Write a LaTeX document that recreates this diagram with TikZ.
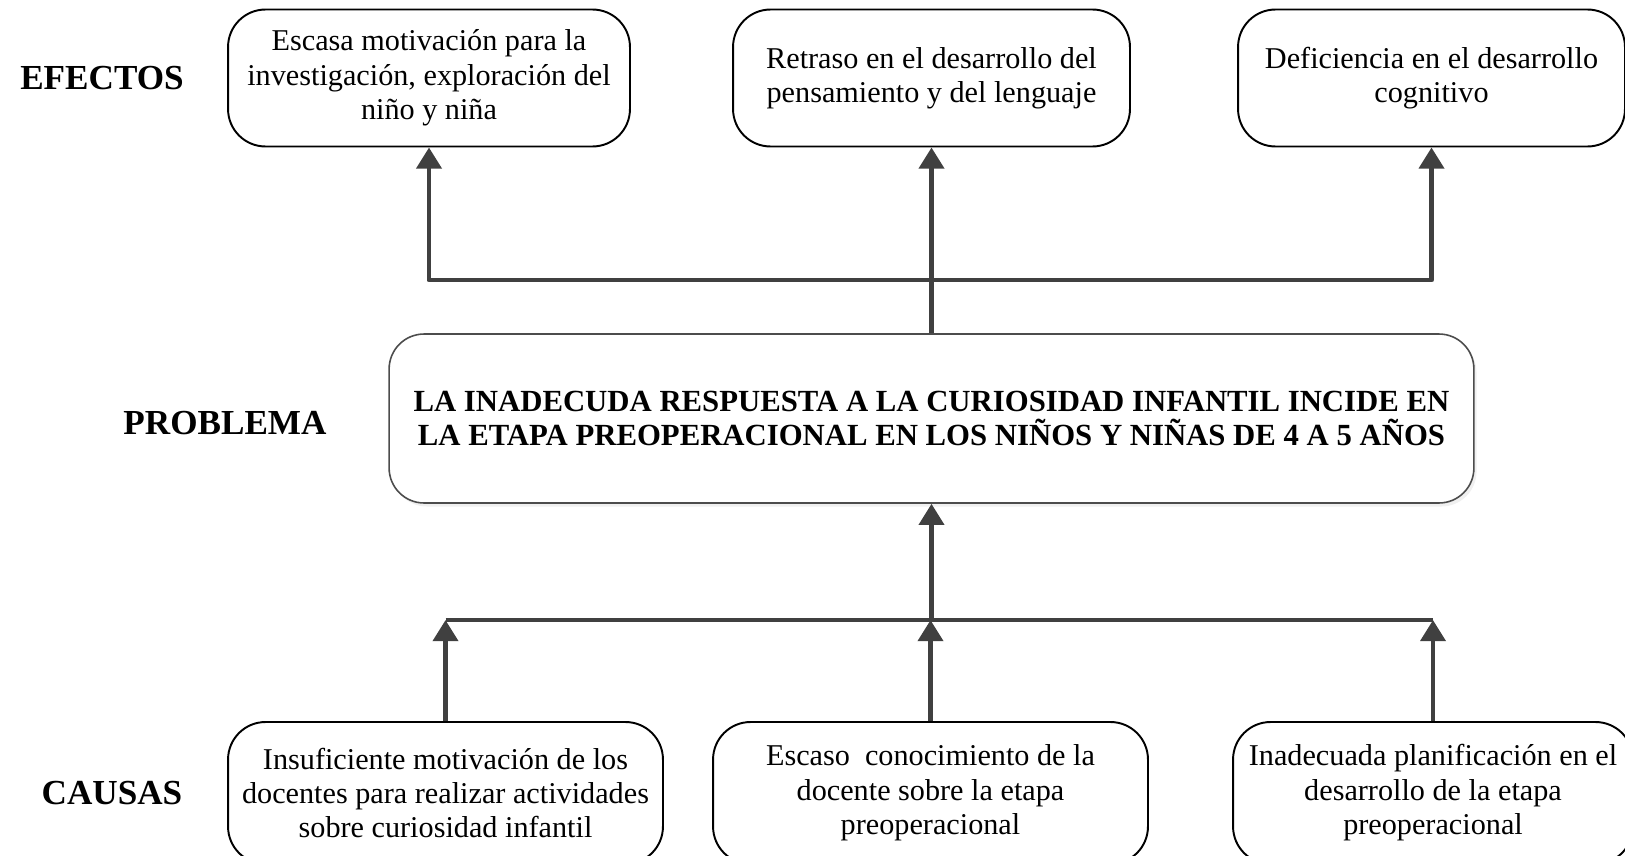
\documentclass[tikz,border=0pt]{standalone}
\usepackage{fontspec}
\setmainfont{Liberation Serif}
\usepackage{xcolor}
\usepackage{tikz}
\usetikzlibrary{positioning,arrows.meta,shadows}

\definecolor{linegray}{HTML}{404040}

\begin{document}
\begin{tikzpicture}[x=0.02cm, y=-0.02cm,
                boxnode/.style={rectangle, rounded corners=0.75cm, draw=black, fill=white, line width=1.1pt, align=center, font=\fontsize{17.2}{19.6}\selectfont},
                probnode/.style={rectangle, rounded corners=0.7cm, draw=black!70, fill=white, line width=0.9pt, align=center, font=\fontsize{17.5}{19.8}\selectfont\bfseries, drop shadow={opacity=0.12, shadow xshift=1.5pt, shadow yshift=-2pt}},
                sidelabel/.style={font=\fontsize{20}{24}\selectfont\bfseries},
                conn/.style={draw=linegray, line width=2.8pt, line join=round},
                arrow/.style={conn, -{Triangle[width=14pt, length=12pt]}}
                ]
                \useasboundingbox (0,0) rectangle (1625,855);
                % efectos
                \node[boxnode, minimum width=8.04cm, minimum height=2.74cm] (eff1) at (429,78) {Escasa motivación para la\\investigación, exploración del\\niño y niña};
                \node[boxnode, minimum width=7.94cm, minimum height=2.74cm] (eff2) at (931.5,78) {Retraso en el desarrollo del\\pensamiento y del lenguaje};
                \node[boxnode, minimum width=7.74cm, minimum height=2.74cm] (eff3) at (1431.5,78) {Deficiencia en el desarrollo\\cognitivo};
                % problema
                \node[probnode, minimum width=21.7cm, minimum height=3.38cm] (prob) at (931.5,418.5) {LA INADECUDA RESPUESTA A LA CURIOSIDAD INFANTIL INCIDE EN\\LA ETAPA PREOPERACIONAL EN LOS NIÑOS Y NIÑAS DE 4 A 5 AÑOS};
                % causas
                \node[boxnode, minimum width=8.7cm, minimum height=2.84cm] (cau1) at (445.5,793) {Insuficiente motivación de los\\docentes para realizar actividades\\sobre curiosidad infantil};
                \node[boxnode, minimum width=8.7cm, minimum height=2.84cm] (cau2) at (930.5,793) {Escaso\ \ conocimiento de la\\docente sobre la etapa\\preoperacional};
                \node[boxnode, minimum width=8.0cm, minimum height=2.84cm] (cau3) at (1433,793) {Inadecuada planificación en el\\desarrollo de la etapa\\preoperacional};
                % etiquetas
                \node[sidelabel] (lblef) at (102,78) {EFECTOS};
                \node[sidelabel] (lblpr) at (225,423) {PROBLEMA};
                \node[sidelabel] (lblca) at (112,793) {CAUSAS};
                % conectores
                \coordinate (efbar) at (931.5,280);
                \coordinate (cabar) at (931.5,620);
                \draw[conn] (prob) -- (efbar);
                \draw[arrow] (efbar) -| (eff1);
                \draw[arrow] (efbar) -- (eff2);
                \draw[arrow] (efbar) -| (eff3);
                \draw[conn] (cau1 |- cabar) -- (cau3 |- cabar);
                \draw[arrow] (cabar) -- (prob);
                \draw[arrow] (cau1) -- (cau1 |- cabar);
                \draw[arrow] (cau2) -- (cau2 |- cabar);
                \draw[arrow] (cau3) -- (cau3 |- cabar);
            \end{tikzpicture}
\end{document}
